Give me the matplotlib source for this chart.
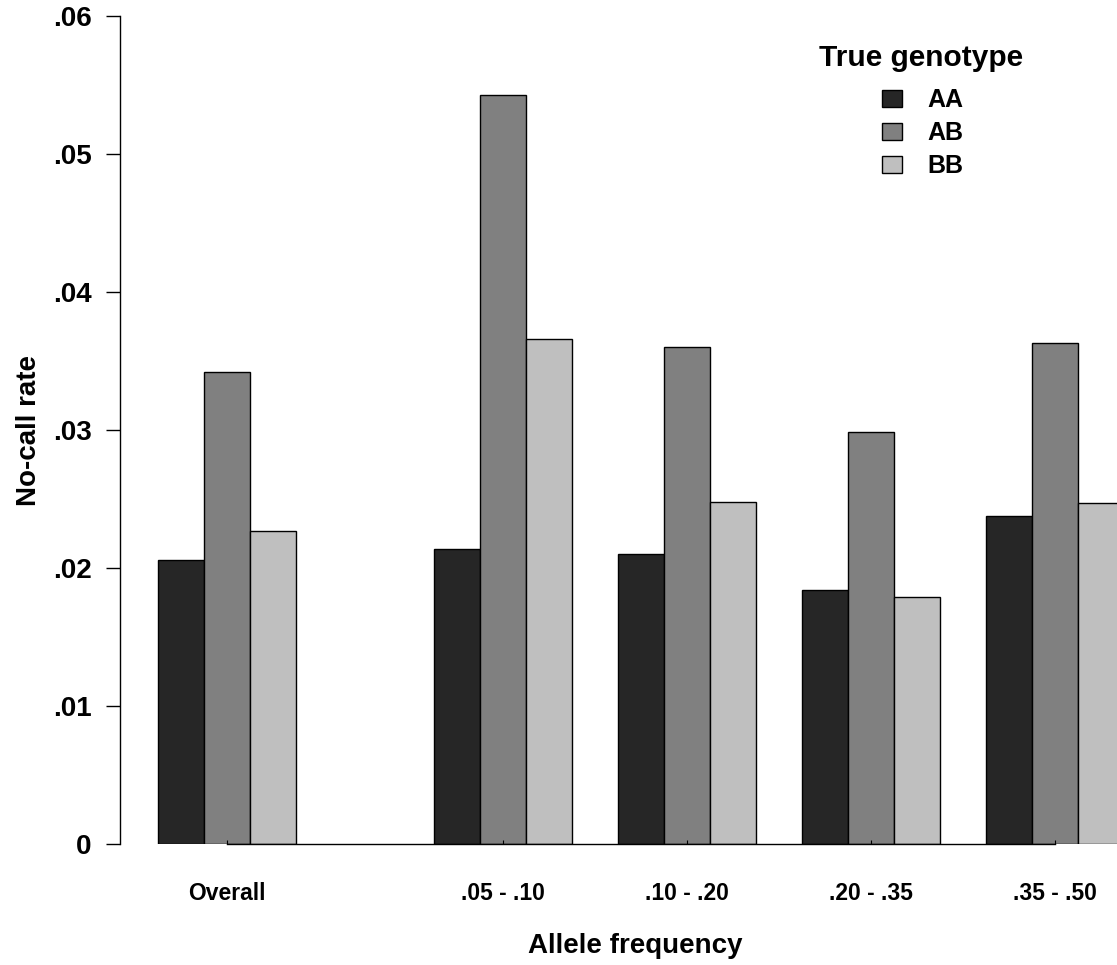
import matplotlib
matplotlib.use('Agg')
import matplotlib.pyplot as plt
import numpy as np

plt.rcParams['font.family'] = ['Liberation Sans', 'DejaVu Sans']
plt.rcParams['font.weight'] = 'bold'

# data
groups = ['Overall', '.05 - .10', '.10 - .20', '.20 - .35', '.35 - .50']
group_pos = [0, 1.5, 2.5, 3.5, 4.5]
genotypes = ['AA', 'AB', 'BB']
aa_rate = [0.0206, 0.0214, 0.0210, 0.0184, 0.0238]
ab_rate = [0.0342, 0.0543, 0.0360, 0.0299, 0.0363]
bb_rate = [0.0227, 0.0366, 0.0248, 0.0179, 0.0247]
y_ticks = [0, 0.01, 0.02, 0.03, 0.04, 0.05, 0.06]
y_tick_labels = ['0', '.01', '.02', '.03', '.04', '.05', '.06']

colors = ['#262626', '#808080', '#bfbfbf']

fig = plt.figure(figsize=(11.17, 9.65), dpi=100)
ax = fig.add_axes([120 / 1117, 1 - 844.3 / 965, 997 / 1117, 828.3 / 965])

x = np.array(group_pos)
w = 0.25
bars = []
for i, vals in enumerate([aa_rate, ab_rate, bb_rate]):
    b = ax.bar(x + (i - 1) * w, vals, width=w, color=colors[i],
               edgecolor='black', linewidth=1.0, label=genotypes[i])
    bars.append(b)

ax.set_xlim(-0.58, 4.837)
ax.set_ylim(0, 0.06)

ax.set_yticks(y_ticks)
ax.set_yticklabels(y_tick_labels)
ax.set_xticks(x)
ax.set_xticklabels(groups)

ax.spines['top'].set_visible(False)
ax.spines['right'].set_visible(False)
ax.spines['bottom'].set_bounds(group_pos[0], group_pos[-1])
ax.spines['left'].set_linewidth(1.0)
ax.spines['bottom'].set_linewidth(1.0)

ax.tick_params(axis='y', direction='out', length=10, width=1.0, pad=10.5,
               labelsize=20)
ax.tick_params(axis='x', direction='in', length=3, width=0.8, pad=27,
               labelsize=16.5)
for lbl in ax.get_xticklabels() + ax.get_yticklabels():
    lbl.set_fontweight('bold')

ax.set_ylabel('No-call rate', fontsize=20, fontweight='bold')
ax.yaxis.set_label_coords(-0.078, 0.5)
ax.set_xlabel('Allele frequency', fontsize=20, fontweight='bold')
ax.xaxis.set_label_coords(0.517, -0.107)

# legend title as its own text, entries below it
fig.text(921 / 1117, 1 - 58 / 965, 'True genotype', fontsize=21.5,
         fontweight='bold', ha='center', va='center')
leg = ax.legend(handles=bars, labels=genotypes,
                loc='upper left', bbox_to_anchor=(882 / 1117, 1 - 88 / 965),
                bbox_transform=fig.transFigure, frameon=False,
                fontsize=18, handlelength=0.8,
                handleheight=0.68, handletextpad=1.0, labelspacing=0.36,
                borderpad=0, borderaxespad=0)
for t in leg.get_texts():
    t.set_fontweight('bold')

fig.savefig('out.png', dpi=100)
